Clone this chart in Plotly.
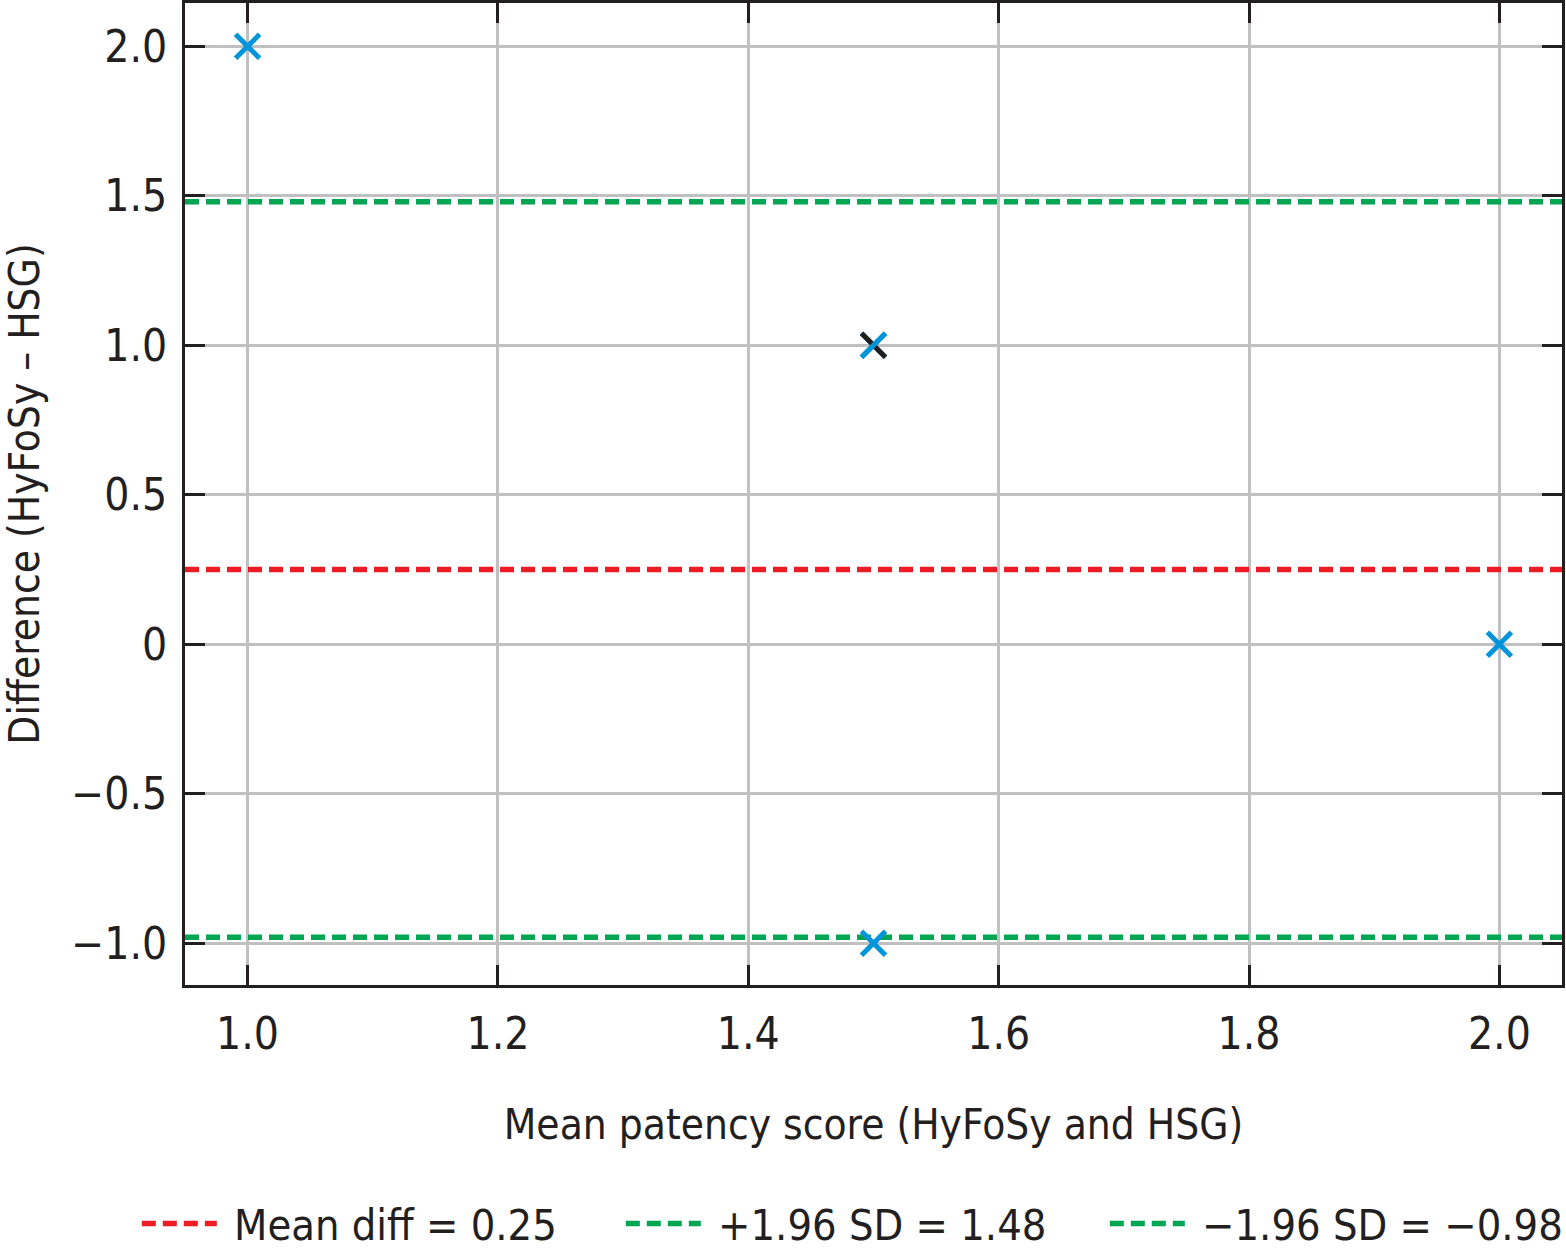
import plotly.graph_objects as go

# Data
mean_score = [1.0, 1.5, 1.5, 2.0]
difference = [2.0, 1.0, -1.0, 0.0]
mean_diff = 0.25
upper_loa = 1.48
lower_loa = -0.98
x_range = [0.95, 2.05]
y_range = [-1.14, 2.145]
x_ticks = [1.0, 1.2, 1.4, 1.6, 1.8, 2.0]
x_ticktext = ["1.0", "1.2", "1.4", "1.6", "1.8", "2.0"]
y_ticks = [-1.0, -0.5, 0.0, 0.5, 1.0, 1.5, 2.0]
y_ticktext = ["\u22121.0", "\u22120.5", "0", "0.5", "1.0", "1.5", "2.0"]
legend_names = ["Mean diff = 0.25", "+1.96 SD = 1.48", "\u22121.96 SD = \u22120.98"]

FONT = "Liberation Sans Narrow, DejaVu Sans Condensed, Arial Narrow, sans-serif"
BLACK = "#231f20"
BLUE = "#0095da"
RED = "#ed1c24"
GREEN = "#00a651"
GRID = "#c0c0c0"
FS = 42
TICK_FS = 44

fig = go.Figure()

for val, name, col in zip([mean_diff, upper_loa, lower_loa], legend_names, [RED, GREEN, GREEN]):
    fig.add_trace(go.Scatter(
        x=x_range, y=[val, val], mode="lines",
        line=dict(color=col, width=5.5, dash="14px,7px"),
        name="\u00a0" + name, hoverinfo="skip"))

fig.add_trace(go.Scatter(
    x=mean_score, y=difference, mode="markers",
    marker=dict(symbol="x-thin", size=24, line=dict(color=BLUE, width=5)),
    showlegend=False))
# the (1.5, 1.0) point shows a black back-diagonal under a blue forward diagonal
fig.add_trace(go.Scatter(
    x=[mean_score[1]], y=[difference[1]], mode="markers",
    marker=dict(symbol="line-nw", size=24, line=dict(color=BLACK, width=5)),
    showlegend=False))
fig.add_trace(go.Scatter(
    x=[mean_score[1]], y=[difference[1]], mode="markers",
    marker=dict(symbol="line-ne", size=24, line=dict(color=BLUE, width=5)),
    showlegend=False))

axis_common = dict(
    showgrid=True, gridcolor=GRID, gridwidth=3,
    showline=True, linecolor=BLACK, linewidth=3, mirror="ticks",
    ticks="inside", ticklen=20, tickwidth=3, tickcolor=BLACK,
    zeroline=False, automargin=False,
    tickfont=dict(family=FONT, size=TICK_FS, color=BLACK),
)

fig.update_xaxes(range=x_range, tickvals=x_ticks, ticktext=x_ticktext,
                 title=dict(text="Mean patency score (HyFoSy and HSG)",
                            font=dict(family=FONT, size=FS, color=BLACK), standoff=52),
                 ticklabelstandoff=8, **axis_common)
fig.update_yaxes(range=y_range, tickvals=y_ticks, ticktext=y_ticktext,
                 title=dict(text="Difference (HyFoSy \u2013 HSG)",
                            font=dict(family=FONT, size=FS, color=BLACK), standoff=37),
                 ticklabelstandoff=6, **axis_common)

fig.update_layout(
    width=1566, height=1253,
    margin=dict(l=185, r=4, t=3, b=268, autoexpand=False),
    plot_bgcolor="white", paper_bgcolor="white",
    font=dict(family=FONT, size=FS, color=BLACK),
    legend=dict(orientation="h", x=-0.035, xanchor="left", y=-0.243, yanchor="middle",
                font=dict(family=FONT, size=43, color=BLACK),
                itemwidth=75, entrywidth=394, entrywidthmode="pixels",
                bgcolor="rgba(0,0,0,0)"),
    showlegend=True,
)

fig.write_html("out.html", config={"displayModeBar": False},
               post_script="document.body.style.margin='0';")
